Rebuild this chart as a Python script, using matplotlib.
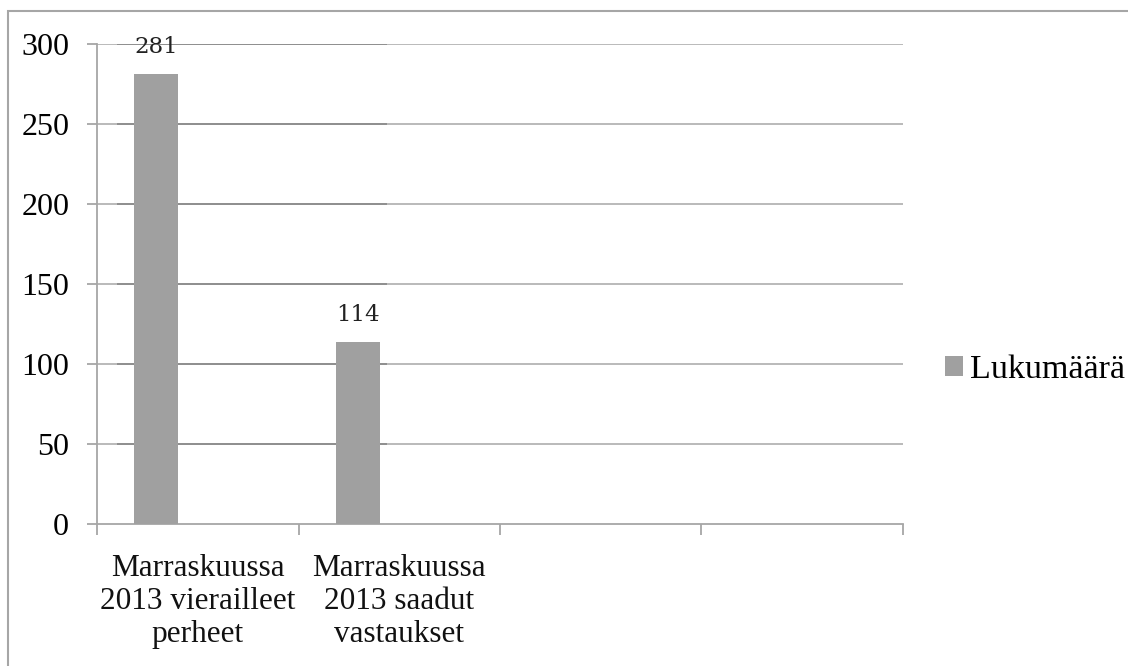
import numpy as np
import matplotlib
matplotlib.use("Agg")
import matplotlib.pyplot as plt
from matplotlib.patches import Rectangle

categories = ["Marraskuussa\n2013 vierailleet\nperheet", "Marraskuussa\n2013 saadut\nvastaukset", "", ""]
values = [281, 114]
series_name = "Lukumäärä"
yticks = [0, 50, 100, 150, 200, 250, 300]

BAR_COLOR = "#a0a0a0"
GRID_LIGHT = "#b4b4b4"
GRID_DARK = "#8c8c8c"
AXIS_COLOR = "#a6a6a6"
SERIF = ["Liberation Serif", "DejaVu Serif"]

fig = plt.figure(figsize=(11.28, 6.66), dpi=100)
ax = fig.add_axes([97 / 1128, 1 - 524 / 666, 806 / 1128, 480 / 666])

n_slots = len(categories)
ax.set_xlim(0, n_slots)
ax.set_ylim(0, 300)

# gridlines: lighter over full width, darker segment on the left part (as in reference)
for y in yticks[1:]:
    ax.axhline(y, color=GRID_LIGHT, lw=1.3, zorder=1)
    ax.plot([0.1, 1.44], [y, y], color=GRID_DARK, lw=1.3, zorder=1.5, solid_capstyle="butt")

x = np.arange(len(values)) + 0.5 - 0.207
bars = ax.bar(x, values, width=0.218, color=BAR_COLOR, zorder=3, label=series_name)
for b, v in zip(bars, values):
    ax.text(b.get_x() + b.get_width() / 2, v + 10, str(v), ha="center", va="bottom",
            fontsize=16.5, family=["DejaVu Serif"], color="#222222")

ax.set_yticks(yticks)
ax.set_yticklabels([str(t) for t in yticks], family=SERIF, fontsize=23)
ax.set_xticks(np.arange(n_slots + 1))
ax.set_xticklabels([])
for i, lab in enumerate(categories):
    if lab:
        ax.text(i + 0.5, -19, lab, ha="center", va="top", fontsize=22.5,
                family=SERIF, linespacing=1.17, color="#111111")

ax.tick_params(axis="y", length=7, width=1.3, color=AXIS_COLOR, pad=13)
ax.tick_params(axis="x", length=8, width=1.3, color=AXIS_COLOR)
for s in ["top", "right"]:
    ax.spines[s].set_visible(False)
for s in ["left", "bottom"]:
    ax.spines[s].set_color(AXIS_COLOR)
    ax.spines[s].set_linewidth(1.3)

leg = fig.legend(handles=[bars], labels=[series_name], loc="center left",
                 bbox_to_anchor=(914 / 1128, 1 - 370 / 666), frameon=False,
                 prop={"family": SERIF, "size": 24.5}, handlelength=0.55, handleheight=0.55,
                 handletextpad=0.2)

# outer chart frame
fig.patches.append(Rectangle((8 / 1128, -0.01), 1.0, 1 - 11 / 666 + 0.01, transform=fig.transFigure,
                             fill=False, edgecolor=AXIS_COLOR, lw=1.5))

fig.savefig("out.png", dpi=100)
